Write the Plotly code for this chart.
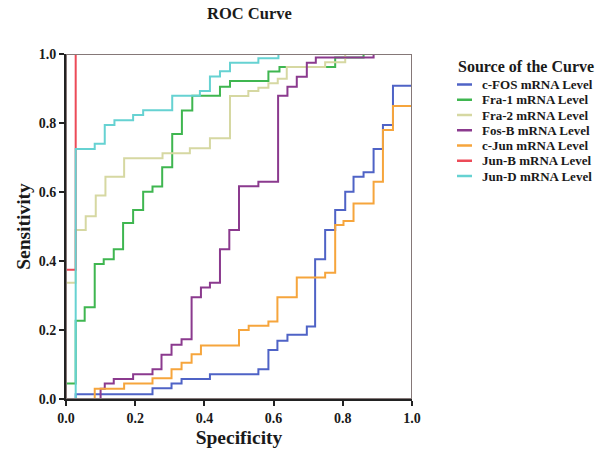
import plotly.graph_objects as go

# ---------------- data ----------------
series_names = ["c-FOS mRNA Level", "Fra-1 mRNA Level", "Fra-2 mRNA Level",
                "Fos-B mRNA Level", "c-Jun mRNA Level", "Jun-B mRNA Level",
                "Jun-D mRNA Level"]
series_colors = ["#4f63c6", "#3fb650", "#d6d8a2", "#8b3a8e", "#f6a53c", "#ec4b58", "#66d2d2"]

cfos_x = [0, 0.028, 0.25, 0.305, 0.334, 0.416, 0.556, 0.585, 0.611, 0.640, 0.696, 0.72,
          0.749, 0.778, 0.807, 0.831, 0.860, 0.889, 0.916, 0.945, 1.0]
cfos_y = [0, 0.014, 0.031, 0.045, 0.058, 0.072, 0.086, 0.142, 0.169, 0.186, 0.210, 0.405,
          0.49, 0.548, 0.601, 0.644, 0.657, 0.725, 0.794, 0.908, 1.0]

fra1_x = [0, 0, 0.028, 0.054, 0.083, 0.109, 0.138, 0.165, 0.194, 0.223, 0.25, 0.278,
          0.307, 0.335, 0.365, 0.445, 0.474, 0.585, 0.617, 0.778, 0.86, 1.0]
fra1_y = [0, 0.045, 0.227, 0.266, 0.391, 0.405, 0.434, 0.51, 0.548, 0.601, 0.616, 0.672,
          0.768, 0.836, 0.879, 0.905, 0.922, 0.949, 0.962, 0.99, 1.0, 1.0]

fra2_x = [0, 0, 0.028, 0.057, 0.086, 0.114, 0.168, 0.279, 0.358, 0.416, 0.474, 0.527,
          0.556, 0.585, 0.612, 0.638, 0.749, 0.807, 1.0]
fra2_y = [0, 0.337, 0.49, 0.53, 0.59, 0.644, 0.698, 0.712, 0.727, 0.756, 0.878, 0.893,
          0.902, 0.915, 0.928, 0.962, 0.976, 1.0, 1.0]

fosb_x = [0, 0.1, 0.112, 0.138, 0.194, 0.25, 0.276, 0.305, 0.334, 0.363, 0.39, 0.416,
          0.445, 0.472, 0.5, 0.556, 0.613, 0.64, 0.667, 0.696, 0.722, 0.889, 1.0]
fosb_y = [0, 0.03, 0.045, 0.058, 0.072, 0.086, 0.128, 0.157, 0.173, 0.295, 0.323, 0.337,
          0.434, 0.49, 0.617, 0.630, 0.879, 0.905, 0.934, 0.975, 0.99, 1.0, 1.0]

cjun_x = [0, 0.083, 0.168, 0.25, 0.305, 0.334, 0.363, 0.39, 0.50, 0.528, 0.585, 0.611,
          0.667, 0.749, 0.778, 0.802, 0.831, 0.889, 0.916, 0.945, 1.0]
cjun_y = [0, 0.03, 0.045, 0.06, 0.086, 0.105, 0.13, 0.155, 0.2, 0.212, 0.225, 0.295,
          0.352, 0.366, 0.504, 0.516, 0.567, 0.630, 0.780, 0.849, 1.0]

junb_x = [0, 0, 0.028, 1.0]
junb_y = [0, 0.375, 1.0, 1.0]

jund_x = [0, 0.028, 0.083, 0.112, 0.14, 0.194, 0.223, 0.307, 0.387, 0.416, 0.445, 0.474,
          0.556, 0.614, 1.0]
jund_y = [0, 0.725, 0.74, 0.794, 0.808, 0.823, 0.837, 0.879, 0.893, 0.935, 0.95, 0.975,
          0.988, 1.0, 1.0]

tick_vals = [0.0, 0.2, 0.4, 0.6, 0.8, 1.0]
tick_text = ["0.0", "0.2", "0.4", "0.6", "0.8", "1.0"]

chart_title = "ROC Curve"
x_title = "Specificity"
y_title = "Sensitivity"
legend_title = "Source of the Curve"

# ---------------- figure ----------------
SERIF = "Liberation Serif, Times New Roman, serif"
series_x = [cfos_x, fra1_x, fra2_x, fosb_x, cjun_x, junb_x, jund_x]
series_y = [cfos_y, fra1_y, fra2_y, fosb_y, cjun_y, junb_y, jund_y]

fig = go.Figure()
for name, color, xs, ys in zip(series_names, series_colors, series_x, series_y):
    fig.add_trace(go.Scatter(x=xs, y=ys, mode="lines", name=name,
                             line=dict(color=color, width=2, shape="hv"),
                             showlegend=False, hoverinfo="skip"))

# gray frame (top / right), drawn over the curves like the reference
fig.add_shape(type="rect", xref="x", yref="y", x0=0, y0=0, x1=1, y1=1,
              line=dict(color="#857878", width=2), layer="above")

fig.update_layout(
    width=600, height=467,
    margin=dict(l=66, r=188, t=54, b=68),
    paper_bgcolor="white", plot_bgcolor="white",
    showlegend=False,
    font=dict(family=SERIF, color="#1a1a1a"),
)

axis_common = dict(
    range=[0, 1], tickmode="array", tickvals=tick_vals, ticktext=tick_text,
    showgrid=False, zeroline=False, showline=True, linecolor="#222222", linewidth=2,
    ticks="outside", ticklen=5, tickwidth=1.5, tickcolor="#222222",
    tickfont=dict(family=SERIF, size=14, weight="bold", color="#1a1a1a"),
    layer="above traces",
)
fig.update_xaxes(**axis_common,
                 title=dict(text=x_title, font=dict(family=SERIF, size=19.5, weight="bold"),
                            standoff=6))
fig.update_yaxes(**axis_common,
                 title=dict(text=y_title, font=dict(family=SERIF, size=19.5, weight="bold"),
                            standoff=3))

# pixel -> paper coordinate helpers (plot area spans 66..412 x 54..399)
def px_x(p):
    return (p - 66) / 346

def px_y(p):
    return (399 - p) / 345

# title
fig.add_annotation(text=chart_title, xref="paper", yref="paper",
                   x=px_x(249), y=px_y(13), xanchor="center", yanchor="middle",
                   showarrow=False, font=dict(family=SERIF, size=16.5, weight="bold", color="#1a1a1a"))

# legend (drawn manually to match the compact spacing)
fig.add_annotation(text=legend_title, xref="paper", yref="paper",
                   x=px_x(456), y=px_y(66), xanchor="left", yanchor="middle",
                   showarrow=False, font=dict(family=SERIF, size=16, weight="bold", color="#1a1a1a"))
for i, (name, color) in enumerate(zip(series_names, series_colors)):
    yc = 84.5 + i * 15.25
    fig.add_shape(type="line", xref="paper", yref="paper",
                  x0=px_x(457), x1=px_x(472), y0=px_y(yc), y1=px_y(yc),
                  line=dict(color=color, width=2.5))
    fig.add_annotation(text=name, xref="paper", yref="paper",
                       x=px_x(480), y=px_y(yc), xanchor="left", yanchor="middle",
                       showarrow=False,
                       font=dict(family=SERIF, size=13, weight="bold", color="#1a1a1a"))

# remove the default 8px page margin so the figure sits at the window's corner
fig.write_html("out.html", config={"displayModeBar": False},
               post_script="document.body.style.margin='0';")
